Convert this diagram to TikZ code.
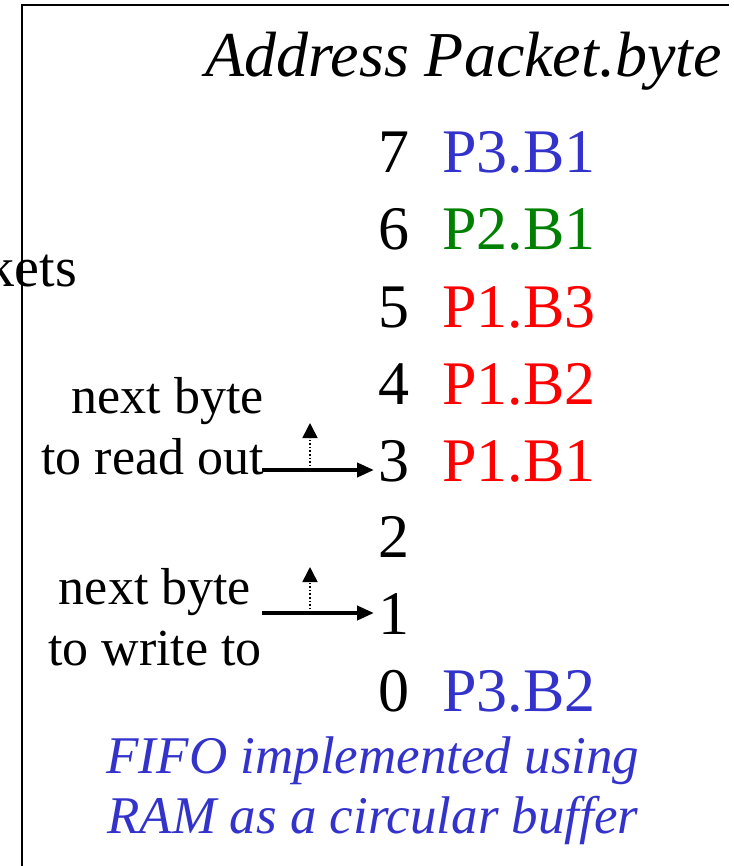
\documentclass[tikz,border=0pt]{standalone}
\usepackage{fontspec}
\setmainfont{Liberation Serif}
\usetikzlibrary{arrows.meta}
\definecolor{pblue}{HTML}{3333CC}
\definecolor{pgreen}{HTML}{008000}
\definecolor{pred}{HTML}{FF0000}
\tikzset{
  big/.style={inner sep=0pt, anchor=base west, font=\fontsize{62}{73}\selectfont},
  label/.style={inner sep=0pt, font=\fontsize{52}{61}\selectfont},
  pointer/.style={line width=4pt, -{Triangle[length=17pt,width=14pt]}},
  advance/.style={line width=1.6pt, dotted, -{Triangle[length=15pt,width=15pt]}},
}
\begin{document}
\begin{tikzpicture}[x=1pt,y=-1pt]
  \useasboundingbox (0,0) rectangle (733,866);
  % frame edges
  \draw[line width=2pt] (22,868) -- (22,5) -- (729,5);
  % heading
  \node[big, font=\fontsize{64}{73}\selectfont\itshape] (head) at (205,77) {Address Packet.byte};
  \node[inner sep=0pt, anchor=base east, font=\fontsize{56}{67}\selectfont] (kets) at (77,287) {kets};
  % RAM addresses and contents
  \node[big] (d7) at (378,173) {7};
  \node[big] (d6) at (378,250) {6};
  \node[big] (d5) at (378,327) {5};
  \node[big] (d4) at (378,404) {4};
  \node[big] (d3) at (378,481) {3};
  \node[big] (d2) at (378,557) {2};
  \node[big] (d1) at (378,634) {1};
  \node[big] (d0) at (378,711) {0};
  \node[big, text=pblue]  (p7) at (442,173) {P3.B1};
  \node[big, text=pgreen] (p6) at (442,250) {P2.B1};
  \node[big, text=pred]   (p5) at (442,327) {P1.B3};
  \node[big, text=pred]   (p4) at (442,404) {P1.B2};
  \node[big, text=pred]   (p3) at (442,481) {P1.B1};
  \node[big, text=pblue]  (p0) at (442,711) {P3.B2};
  % pointers (base anchor sits on the last line)
  \node[label, align=right, anchor=base east] (rd) at (264,474) {next byte\\to read out};
  \node[label, align=center, anchor=base] (wr) at (155,665) {next byte\\to write to};
  \coordinate (rs) at (262,470);
  \coordinate (ws) at (262,613);
  \coordinate (rt) at (374,470);
  \coordinate (wt) at (374,613);
  \draw[pointer] (rs) -- (rt);
  \draw[pointer] (ws) -- (wt);
  \coordinate (ru) at (310,470);
  \coordinate (wu) at (310,613);
  \draw[advance] (ru) -- ++(0,-47);
  \draw[advance] (wu) -- ++(0,-46);
  % caption
  \node[inner sep=0pt, align=center, anchor=base, text=pblue,
        font=\fontsize{53}{60}\selectfont\itshape] (cap) at (373,833)
        {FIFO implemented using\\RAM as a circular buffer};
\end{tikzpicture}
\end{document}
